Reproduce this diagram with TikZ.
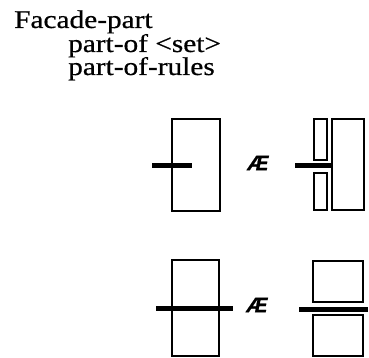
\documentclass[tikz,border=0pt]{standalone}
\usepackage{fontspec}
\setmainfont{Liberation Serif}[FakeStretch=1.15,FakeBold=0.6]
\newfontfamily\aefont{Liberation Sans}[FakeBold=0.8]
\begin{document}
\begin{tikzpicture}[x=1pt,y=-1pt,
  box/.style={draw=black,line width=1.8pt},
  bar/.style={draw=black,line width=5pt},
  lbl/.style={inner sep=0pt,anchor=base west,font=\fontsize{25.5}{25.5}\selectfont},
  ae/.style={inner sep=0pt,font=\aefont\bfseries\itshape\fontsize{21}{21}\selectfont}]
\useasboundingbox (0,0) rectangle (369,358);
% texts
\node[lbl] (t1) at (14,28) {Facade-part};
\node[lbl] (t2) at (68,52) {part-of <set>};
\node[lbl] (t3) at (68,75) {part-of-rules};
% top row
\draw[box] (172,119) rectangle (220,211);
\draw[bar] (152,166) -- (192,166);
\node[ae] (ae1) at (258,163) {Æ};
\draw[box] (314,119) rectangle (327,160);
\draw[box] (314,173) rectangle (327,210);
\draw[box] (332,119) rectangle (364,210);
\draw[bar] (295,166) -- (332,166);
% bottom row
\draw[box] (172,260) rectangle (219,356);
\draw[bar] (156,308) -- (233,308);
\node[ae] (ae2) at (257,305) {Æ};
\draw[box] (313,261) rectangle (363,302);
\draw[box] (313,315) rectangle (363,356);
\draw[bar] (299,309) -- (368,309);
\end{tikzpicture}
\end{document}
